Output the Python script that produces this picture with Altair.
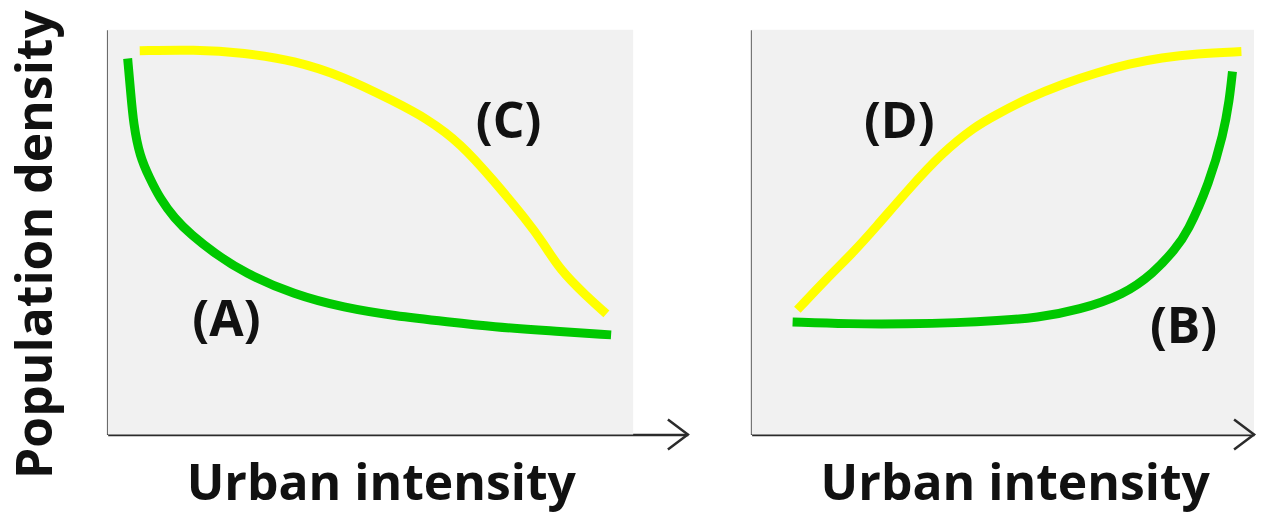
import altair as alt
import pandas as pd

# ---- Left panel curves (x: urban intensity 0-100, y: population density 0-100)
a_x = [3.8, 4.4, 4.9, 6.1, 8.0, 9.9, 12.7, 15.9, 20.3, 26.0, 35.5, 45.0, 54.5, 64.9, 73.4, 83.9, 95.8]
a_y = [92.9, 84.2, 76.8, 68.7, 63.3, 58.4, 53.4, 49.3, 44.8, 39.9, 34.5, 31.3, 29.3, 27.8, 26.6, 25.6, 24.6]

c_x = [6.1, 16.5, 26.0, 35.5, 45.0, 54.5, 60.7, 67.2, 73.4, 79.7, 82.9, 86.1, 91.1, 94.9]
c_y = [94.8, 95.1, 94.3, 92.4, 88.4, 82.3, 78.1, 71.9, 62.8, 53.0, 47.3, 40.6, 34.2, 29.8]

# ---- Right panel curves
d_x = [8.7, 14.4, 19.2, 23.5, 30.0, 36.2, 42.5, 46.7, 52.4, 59.4, 65.7, 71.9, 78.0, 84.6, 93.2]
d_y = [30.8, 38.7, 44.8, 51.0, 60.8, 69.5, 76.1, 79.1, 83.0, 86.7, 89.4, 91.6, 93.1, 94.1, 94.6]

b_x = [7.8, 18.2, 30.0, 39.1, 46.7, 54.3, 62.4, 70.8, 76.5, 80.5, 82.9, 87.1, 89.8, 90.9, 91.5]
b_y = [27.8, 27.3, 27.3, 27.6, 28.1, 28.8, 30.8, 34.5, 39.9, 45.6, 49.8, 62.1, 74.4, 82.5, 89.7]

# ---- Curve labels
left_labels = ["(A)", "(C)"]
left_label_x = [22.6, 76.3]
left_label_y = [24.4, 73.2]
right_labels = ["(D)", "(B)"]
right_label_x = [28.1, 82.2]
right_label_y = [73.2, 22.7]

x_title = "Urban intensity"
y_title = "Population density"

GREEN = "#00c800"
YELLOW = "#ffff00"
GRAY = "#f1f1f1"
AXIS = "#2b2b2b"
FONT = "Open Sans"


def curve_frame(specs):
    rows = []
    for name, xs, ys, _col in specs:
        for i, (x, y) in enumerate(zip(xs, ys)):
            rows.append({"curve": name, "x": x, "y": y, "i": i})
    return pd.DataFrame(rows)


def panel(specs, labels, lx, ly, x_end, gray_end, width, title_x, show_y_title):
    xs = alt.Scale(domain=[0, x_end], nice=False, zero=False)
    ys = alt.Scale(domain=[0, 100], nice=False, zero=False)

    x_axis = alt.Axis(
        labels=False, ticks=False, grid=False,
        domainColor=AXIS, domainWidth=2.5,
        title=x_title, titleFont=FONT, titleFontSize=50, titleFontWeight="bold",
        titleColor="#111111", titleX=title_x, titleY=65,
        titleBaseline="alphabetic", titleAlign="center",
    )
    if show_y_title:
        y_axis = alt.Axis(
            labels=False, ticks=False, grid=False,
            domainColor=AXIS, domainWidth=2.5,
            title=y_title, titleFont=FONT, titleFontSize=50, titleFontWeight="bold",
            titleColor="#111111", titleX=-56, titleY=215, titleAngle=270,
            titleBaseline="alphabetic", titleAlign="center",
        )
    else:
        y_axis = alt.Axis(
            labels=False, ticks=False, grid=False,
            domainColor=AXIS, domainWidth=2.5, title=" ",
        )

    def X(field):
        return alt.X(field, scale=xs, axis=x_axis)

    def Y(field):
        return alt.Y(field, scale=ys, axis=y_axis)

    bg = alt.Chart(pd.DataFrame({"x0": [0], "x1": [gray_end], "y0": [0], "y1": [100]})).mark_rect(
        color=GRAY
    ).encode(x=X("x0:Q"), x2="x1:Q", y=Y("y0:Q"), y2="y1:Q")

    df = curve_frame(specs)
    names = [s[0] for s in specs]
    colors = [s[3] for s in specs]
    lines = alt.Chart(df).mark_line(
        strokeWidth=9, strokeCap="butt", interpolate="basis"
    ).encode(
        x=X("x:Q"),
        y=Y("y:Q"),
        color=alt.Color("curve:N", scale=alt.Scale(domain=names, range=colors), legend=None),
        order="i:Q",
    )

    txt = alt.Chart(pd.DataFrame({"t": labels, "x": lx, "y": ly})).mark_text(
        font=FONT, fontSize=50, fontWeight="bold", baseline="alphabetic",
        align="center", color="#111111",
    ).encode(x=X("x:Q"), y=Y("y:Q"), text="t:N")

    arrow = alt.Chart(pd.DataFrame({"x": [x_end], "y": [0]})).mark_point(
        shape="M-1,-0.75L0,0L-1,0.75", size=1600, filled=False,
        stroke=AXIS, strokeWidth=2.5, opacity=1,
    ).encode(x=X("x:Q"), y=Y("y:Q"))

    return alt.layer(bg, lines, txt, arrow).properties(width=width, height=406)


left = panel(
    [("A", a_x, a_y, GREEN), ("C", c_x, c_y, YELLOW)],
    left_labels, left_label_x, left_label_y,
    x_end=110.4, gray_end=100, width=582, title_x=274, show_y_title=True,
)
right = panel(
    [("B", b_x, b_y, GREEN), ("D", d_x, d_y, YELLOW)],
    right_labels, right_label_x, right_label_y,
    x_end=95.6, gray_end=95.6, width=504, title_x=264, show_y_title=False,
)

chart = alt.hconcat(left, right, spacing=64, bounds="flush").properties(
    padding={"left": 3, "top": 0, "right": 0, "bottom": 8},
    background="white",
).configure_view(strokeWidth=0)

chart.save("out.html", embed_options={"renderer": "svg", "actions": False})
